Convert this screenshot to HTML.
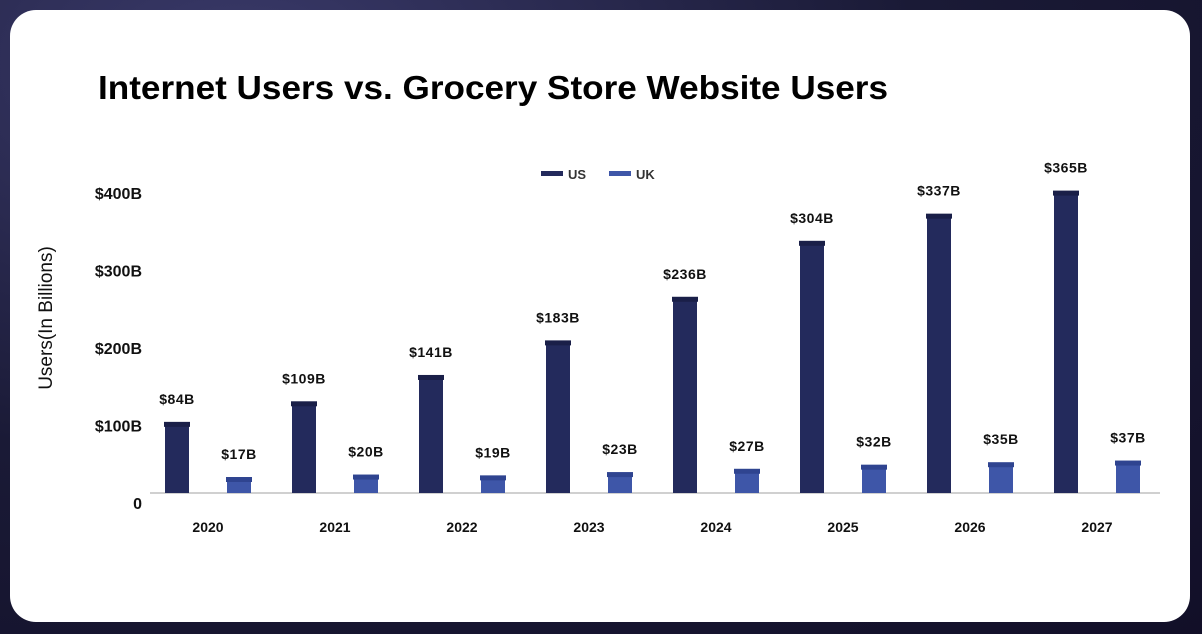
<!DOCTYPE html>
<html><head><meta charset="utf-8"><style>
html,body{margin:0;padding:0;width:1202px;height:634px;overflow:hidden;background:#1c1b3a;font-family:"Liberation Sans",sans-serif}
.bg{position:absolute;inset:0;background:radial-gradient(ellipse at 20% 10%,#3a3a6a 0%,#1a1a36 50%,#120f28 100%)}
.card{position:absolute;left:10px;top:10px;width:1180px;height:612px;background:#fff;border-radius:26px}
</style></head><body>
<div class="bg"></div>
<div class="card"></div>
<svg id="chart" width="1202" height="634" style="position:absolute;left:0;top:0">
<text x="98" y="99" font-size="33" font-weight="bold" fill="#000" textLength="790" lengthAdjust="spacingAndGlyphs">Internet Users vs. Grocery Store Website Users</text>
<text transform="translate(52,318) rotate(-90)" text-anchor="middle" font-size="19" fill="#111">Users(In Billions)</text>
<g>
<rect x="541" y="171" width="22" height="5" fill="#232a5c"/>
<text x="568" y="179" font-size="13" font-weight="bold" fill="#333">US</text>
<rect x="609" y="171" width="22" height="5" fill="#3e56a8"/>
<text x="636" y="179" font-size="13" font-weight="bold" fill="#333">UK</text>
</g>
<line x1="150" y1="493" x2="1160" y2="493" stroke="#d0d0d0" stroke-width="2"/>
<g id="ticks"></g><g id="bars"></g>
</svg>
<script>
const categories=["2020","2021","2022","2023","2024","2025","2026","2027"];
const usValues=[84,109,141,183,236,304,337,365];
const ukValues=[17,20,19,23,27,32,35,37];
const tickValues=[0,100,200,300,400];
const tickLabels=["0","$100B","$200B","$300B","$400B"];
const NS="http://www.w3.org/2000/svg";
const base=493;
function yBar(v){return base-v*0.823;}
function yTick(v){return 503-v*0.775;}
function xCat(i){return 177+i*127;}
const ticks=document.getElementById('ticks'),bars=document.getElementById('bars');
function mk(tag,attrs,parent){const e=document.createElementNS(NS,tag);for(const k in attrs)e.setAttribute(k,attrs[k]);parent.appendChild(e);return e;}
tickValues.forEach((v,i)=>{
 const t=mk('text',{x:142,y:yTick(v)+6,'text-anchor':'end','font-size':16,'font-weight':'bold',fill:'#111'},ticks);
 
 
 t.textContent=tickLabels[i];
});
categories.forEach((c,i)=>{
 const xu=xCat(i),xk=xu+62;
 [[usValues[i],xu,'#232a5c','#1a1f48','us'],[ukValues[i],xk,'#3e56a8','#2f4490','uk']].forEach(([v,x,col,cap,s])=>{
  const y=yBar(v);
  const r=mk('rect',{x:x-12,y:y,width:24,height:base-y,fill:col},bars);
  
  
  const cp=mk('rect',{x:x-13,y:y-2,width:26,height:5,fill:cap},bars);
  
  
  const lb=mk('text',{x:x,y:y-20,'text-anchor':'middle','font-size':14,'font-weight':'bold',fill:'#111','letter-spacing':'0.5'},bars);
  
  
  lb.textContent='$'+v+'B';
 });
 const xl=mk('text',{x:xu+31,y:532,'text-anchor':'middle','font-size':14,'font-weight':'bold',fill:'#111'},bars);
 
 
 xl.textContent=c;
});
</script>
</body></html>
